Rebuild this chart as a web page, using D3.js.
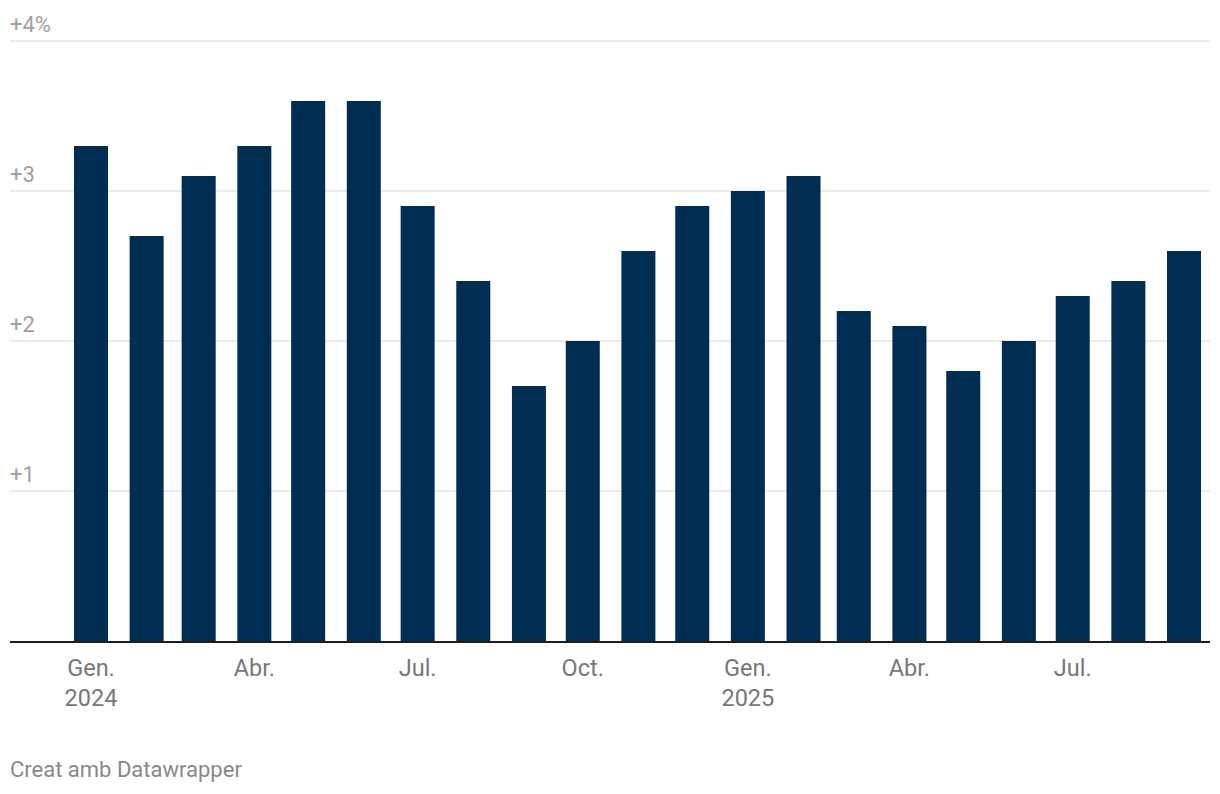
<!DOCTYPE html>
<html><head><meta charset="utf-8">
<script src="https://cdn.jsdelivr.net/npm/d3@7"></script>
<style>body{margin:0;background:#fff;font-family:Roboto,sans-serif}</style>
</head><body><svg id="c" width="1220" height="794"></svg>
<script>
const months = ["2024-01","2024-02","2024-03","2024-04","2024-05","2024-06","2024-07","2024-08","2024-09","2024-10","2024-11","2024-12","2025-01","2025-02","2025-03","2025-04","2025-05","2025-06","2025-07","2025-08","2025-09"];
const values = [3.3,2.7,3.1,3.3,3.6,3.6,2.9,2.4,1.7,2.0,2.6,2.9,3.0,3.1,2.2,2.1,1.8,2.0,2.3,2.4,2.6];
const yTicks = [1,2,3,4];
const yTickLabels = ["+1","+2","+3","+4%"];
const xTickMonths = ["2024-01","2024-04","2024-07","2024-10","2025-01","2025-04","2025-07"];
const xTickLabels = [["Gen.","2024"],["Abr."],["Jul."],["Oct."],["Gen.","2025"],["Abr."],["Jul."]];

const parse = d3.timeParse("%Y-%m");
const svg = d3.select("#c");
const x = d3.scaleTime().domain([parse(months[0]), parse(months[months.length-1])]).range([91,1184]);
const y = d3.scaleLinear().domain([0,4]).range([641,41]);
const barW = 34;

// gridlines
svg.append("g").selectAll("line").data(yTicks).join("line")
  .attr("x1",10).attr("x2",1210).attr("y1",d=>y(d)).attr("y2",d=>y(d))
  .attr("stroke","#e3e3e3").attr("stroke-width",1.5);
svg.append("g").selectAll("text").data(yTicks).join("text")
  .attr("x",10).attr("y",d=>y(d)-9).text((d,i)=>yTickLabels[i])
  .attr("fill","#a0a0a0").attr("font-size",22).attr("font-family","Roboto");

// bars
svg.append("g").selectAll("rect").data(values).join("rect")
  .attr("x",(d,i)=>x(parse(months[i]))-barW/2).attr("width",barW)
  .attr("y",d=>y(d)).attr("height",d=>y(0)-y(d)).attr("fill","#002d52");

// baseline
svg.append("line").attr("x1",10).attr("x2",1210).attr("y1",y(0)+1).attr("y2",y(0)+1)
  .attr("stroke","#1d1d1d").attr("stroke-width",2);

// x labels
const xl = svg.append("g").selectAll("text").data(xTickMonths).join("text")
  .attr("text-anchor","middle").attr("fill","#777").attr("font-size",23.5).attr("font-family","Roboto")
  .attr("transform",d=>`translate(${x(parse(d))},0)`);
xl.each(function(d,i){
  const t=d3.select(this);
  xTickLabels[i].forEach((s,j)=>t.append("tspan").attr("x",0).attr("y",676+j*30).text(s));
});

svg.append("text").attr("x",10).attr("y",777).text("Creat amb Datawrapper")
  .attr("fill","#888").attr("font-size",22).attr("font-family","Roboto");
</script></body></html>
